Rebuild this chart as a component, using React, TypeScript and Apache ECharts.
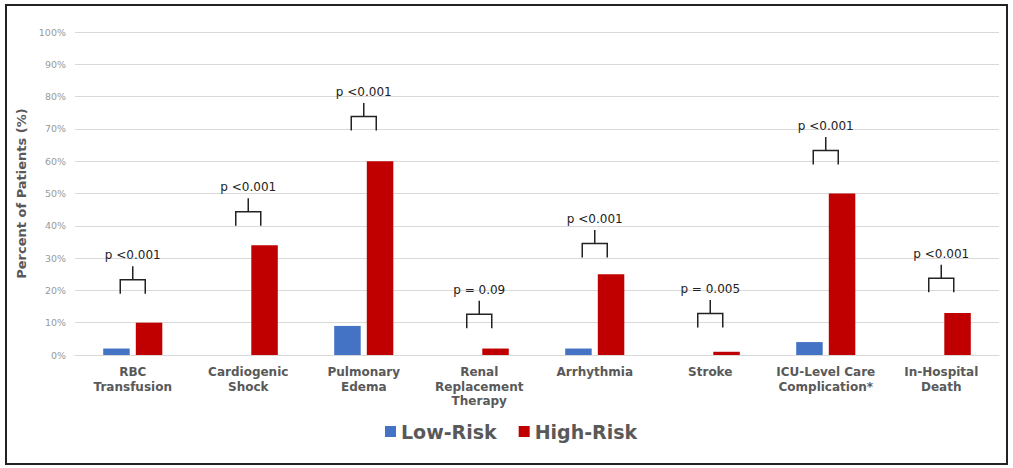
import React, { useEffect, useRef } from "react";
import * as echarts from "echarts";

const categories = [
  "RBC\nTransfusion",
  "Cardiogenic\nShock",
  "Pulmonary\nEdema",
  "Renal\nReplacement\nTherapy",
  "Arrhythmia",
  "Stroke",
  "ICU-Level Care\nComplication*",
  "In-Hospital\nDeath",
];
const lowRisk = [2, 0, 9, 0, 2, 0, 4, 0];
const highRisk = [10, 34, 60, 2, 25, 1, 50, 13];
const pValues = ["p <0.001", "p <0.001", "p <0.001", "p = 0.09", "p <0.001", "p = 0.005", "p <0.001", "p <0.001"];
// data-level of the bottom of each significance bracket
const bracketBase = [19, 40, 69.5, 8.3, 30.2, 8.5, 59, 19.4];
const yTicks = [0, 10, 20, 30, 40, 50, 60, 70, 80, 90, 100];

const FONT = "DejaVu Sans";

export default function App() {
  const ref = useRef<HTMLDivElement>(null);
  useEffect(() => {
    if (!ref.current) return;
    const chart = echarts.init(ref.current, undefined, { renderer: "svg" });
    const option: any = {
      animation: false,
      backgroundColor: "#ffffff",
      textStyle: { fontFamily: FONT },
      graphic: [
        {
          type: "rect",
          shape: { x: 6, y: 5, width: 1001, height: 459 },
          style: { fill: "none", stroke: "#222", lineWidth: 2 },
          silent: true,
        },
      ],
      grid: { left: 75, right: 14, top: 32, bottom: 113 },
      legend: {
        data: ["Low-Risk", "High-Risk"],
        left: 380,
        top: 417,
        itemWidth: 11,
        itemHeight: 11,
        itemGap: 22,
        icon: "rect",
        textStyle: { fontFamily: FONT, fontSize: 19, fontWeight: "bold", color: "#595959" },
      },
      xAxis: {
        type: "category",
        data: categories,
        axisLine: { lineStyle: { color: "#d9d9d9" } },
        axisTick: { show: false },
        axisLabel: {
          interval: 0,
          margin: 10,
          fontFamily: FONT,
          fontSize: 12,
          fontWeight: "bold",
          color: "#595959",
          lineHeight: 14.5,
        },
      },
      yAxis: {
        type: "value",
        min: yTicks[0],
        max: yTicks[yTicks.length - 1],
        interval: 10,
        name: "Percent of Patients (%)",
        nameLocation: "middle",
        nameGap: 45,
        nameTextStyle: { fontFamily: FONT, fontSize: 13, fontWeight: "bold", color: "#595959" },
        axisLine: { show: false },
        axisTick: { show: false },
        splitLine: { lineStyle: { color: "#d9d9d9" } },
        axisLabel: {
          formatter: "{value}%",
          fontFamily: FONT,
          fontSize: 9.5,
          color: "#999999",
          margin: 9,
        },
      },
      series: [
        {
          name: "Low-Risk",
          type: "bar",
          data: lowRisk,
          barWidth: 26.5,
          barGap: "23%",
          itemStyle: { color: "#4472C4" },
        },
        {
          name: "High-Risk",
          type: "bar",
          data: highRisk,
          barWidth: 26.5,
          barGap: "23%",
          itemStyle: { color: "#C00000" },
        },
        {
          name: "brackets",
          type: "custom",
          data: bracketBase.map((b, i) => [i, b]),
          encode: { x: 0, y: 1 },
          silent: true,
          z: 5,
          renderItem: (params: any, api: any) => {
            const idx = api.value(0);
            const base = api.value(1);
            const p = api.coord([idx, base]);
            const cx = p[0];
            const yb = p[1];
            const yh = yb - 14;
            const yt = yh - 13.5;
            const half = 12.5;
            return {
              type: "group",
              children: [
                {
                  type: "polyline",
                  shape: {
                    points: [
                      [cx - half, yb],
                      [cx - half, yh],
                      [cx + half, yh],
                      [cx + half, yb],
                    ],
                  },
                  style: { stroke: "#222", lineWidth: 1.5, fill: null },
                },
                {
                  type: "line",
                  shape: { x1: cx, y1: yh, x2: cx, y2: yt },
                  style: { stroke: "#222", lineWidth: 1.5 },
                },
                {
                  type: "text",
                  style: {
                    text: pValues[params.dataIndex],
                    x: cx,
                    y: yt - 11,
                    align: "center",
                    verticalAlign: "middle",
                    font: `12px "${FONT}"`,
                    fill: "#222",
                  },
                },
              ],
            };
          },
        },
      ],
    };
    chart.setOption(option);
    return () => chart.dispose();
  }, []);
  return (
    <div
      ref={ref}
      style={{ position: "fixed", left: 0, top: 0, width: 1013, height: 468 }}
    />
  );
}
